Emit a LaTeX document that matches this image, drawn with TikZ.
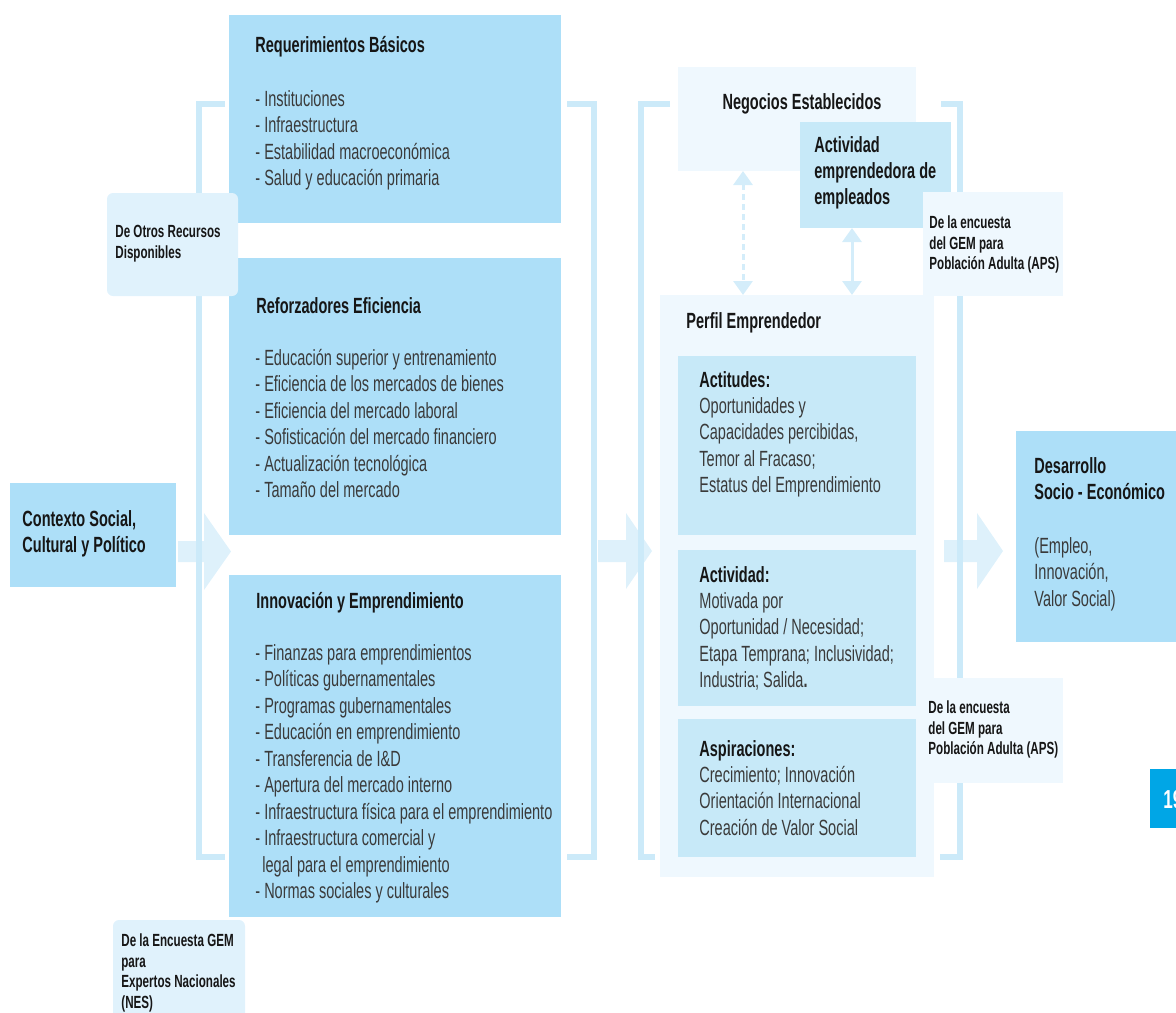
\documentclass[tikz,border=0pt]{standalone}
\usepackage{fontspec}
\setmainfont{Liberation Sans}[FakeStretch=0.66]
\usetikzlibrary{arrows.meta}
\definecolor{mainblue}{RGB}{173,223,248}
\definecolor{innerblue}{RGB}{199,233,248}
\definecolor{paleblue}{RGB}{239,248,254}
\definecolor{labelblue}{RGB}{224,242,252}
\definecolor{brackblue}{RGB}{204,234,249}
\definecolor{arrowblue}{RGB}{222,241,251}
\definecolor{vlinkblue}{RGB}{212,237,250}
\definecolor{pageblue}{RGB}{0,166,230}
\definecolor{txtreg}{RGB}{58,58,58}
\definecolor{txtbold}{RGB}{22,22,22}
\newcommand\fstrut{\rule{0pt}{0.82em}}
\begin{document}
\begin{tikzpicture}[x=0.5pt,y=-0.5pt,
  panel/.style={fill=#1,draw=none,inner sep=0pt,outer sep=0pt,rectangle},
  rpanel/.style={fill=#1,draw=none,inner sep=0pt,outer sep=0pt,rectangle,rounded corners=3pt},
  ttl/.style={anchor=north west,inner sep=0pt,align=left,text=txtbold,font=\fontsize{11}{13}\selectfont\bfseries},
  lst/.style={anchor=north west,inner sep=0pt,align=left,text=txtreg,font=\fontsize{11}{13.25}\selectfont},
  lbl/.style={anchor=north west,inner sep=0pt,align=left,text=txtbold,font=\fontsize{8.8}{10.3}\selectfont\bfseries},
  blockarrow/.style={fill=arrowblue,draw=none},
  brack/.style={draw=brackblue,line width=3pt},
  vlink/.style={draw=vlinkblue,line width=1.5pt,{Triangle[width=9.5pt,length=7pt]}-{Triangle[width=9.5pt,length=7pt]}},
]
\useasboundingbox (0,0) rectangle (1176,1012);

% block arrows
\fill[blockarrow] (178,541) -- (204,541) -- (204,513) -- (231,551.5) -- (204,590) -- (204,562) -- (178,562) -- cycle;
\fill[blockarrow] (598,540) -- (626,540) -- (626,513) -- (652,551) -- (626,589) -- (626,562) -- (598,562) -- cycle;
\fill[blockarrow] (944,540) -- (977,540) -- (977,513) -- (1003,551) -- (977,589) -- (977,562) -- (944,562) -- cycle;

% brackets
\draw[brack] (225,103.5) -- (198.5,103.5) -- (198.5,856.5) -- (225,856.5);
\draw[brack] (567,103.5) -- (593.5,103.5) -- (593.5,856.5) -- (567,856.5);
\draw[brack] (670,103.5) -- (641,103.5) -- (641,856.5) -- (655,856.5);
\draw[brack] (941,103.5) -- (960,103.5) -- (960,856.5) -- (940,856.5);

% left column panels
\node[panel=mainblue,minimum width=166pt,minimum height=104pt] (rb) at (395,119) {};
\node[panel=mainblue,minimum width=166pt,minimum height=138.5pt] (re) at (395,396.5) {};
\node[panel=mainblue,minimum width=166pt,minimum height=171pt] (ie) at (395,746) {};
\node[panel=mainblue,minimum width=83pt,minimum height=52pt] (ctx) at (93,535) {};
\node[rpanel=labelblue,minimum width=65.5pt,minimum height=51.5pt] (otros) at (172.5,244.5) {};
\node[rpanel=labelblue,minimum width=66pt,minimum height=55pt] (nes) at (179,975) {};

% middle column panels
\node[panel=paleblue,minimum width=119pt,minimum height=52pt] (neg) at (797,119) {};
\node[panel=innerblue,minimum width=75.5pt,minimum height=53pt] (act) at (875.5,175) {};
\node[panel=paleblue,minimum width=137pt,minimum height=291pt] (perfil) at (797,586) {};
\node[panel=innerblue,minimum width=119pt,minimum height=89.5pt] (actit) at (797,445.5) {};
\node[panel=innerblue,minimum width=119pt,minimum height=78pt] (activ) at (797,628) {};
\node[panel=innerblue,minimum width=119pt,minimum height=69pt] (aspir) at (797,788) {};
\node[panel=paleblue,minimum width=70pt,minimum height=52pt] (aps1) at (993,244) {};
\node[panel=paleblue,minimum width=65pt,minimum height=52.5pt] (aps2) at (998,730.5) {};

% right panels
\node[panel=mainblue,minimum width=87pt,minimum height=105.5pt] (des) at (1103,536.5) {};
\node[panel=pageblue,minimum width=20pt,minimum height=29.5pt] (pg) at (1170,798.5) {};

% vertical links
\coordinate (dx) at (743,0);
\coordinate (sx) at (852,0);
\draw[vlink,dash pattern=on 3pt off 2pt] (neg.south -| dx) -- (perfil.north -| dx);
\draw[vlink] (act.south -| sx) -- (perfil.north -| sx);

% texts left column
\node[ttl] (rbT) at (255,34) {\fstrut Requerimientos Básicos};
\node[lst] (rbL) at (255,88) {\fstrut- Instituciones\\- Infraestructura\\- Estabilidad macroeconómica\\- Salud y educación primaria};
\node[ttl] (reT) at (256,295) {\fstrut Reforzadores Eficiencia};
\node[lst] (reL) at (255,347) {\fstrut- Educación superior y entrenamiento\\- Eficiencia de los mercados de bienes\\- Eficiencia del mercado laboral\\- Sofisticación del mercado financiero\\- Actualización tecnológica\\- Tamaño del mercado};
\node[ttl] (ieT) at (256,590) {\fstrut Innovación y Emprendimiento};
\node[lst] (ieL) at (255,642) {\fstrut- Finanzas para emprendimientos\\- Políticas gubernamentales\\- Programas gubernamentales\\- Educación en emprendimiento\\- Transferencia de I\&D\\- Apertura del mercado interno\\- Infraestructura física para el emprendimiento\\- Infraestructura comercial y\\\hspace*{3.5pt}legal para el emprendimiento\\- Normas sociales y culturales};
\node[ttl] (ctxT) at (22,508) {\fstrut Contexto Social,\\Cultural y Político};
\node[lbl] (otrosT) at (115,222.6) {\fstrut De Otros Recursos\\Disponibles};
\node[lbl] (nesT) at (121,931.6) {\fstrut De la Encuesta GEM\\para\\Expertos Nacionales\\(NES)};

% texts middle column
\node[anchor=base,inner sep=0pt,text=txtbold,font=\fontsize{11}{13}\selectfont\bfseries] (negT) at (802,109) {Negocios Establecidos};
\node[ttl] (actT) at (814,134) {\fstrut Actividad\\emprendedora de\\empleados};
\node[lbl] (aps1T) at (929,213.6) {\fstrut De la encuesta\\del GEM para\\Población Adulta (APS)};
\node[ttl] (perfilT) at (686,310) {\fstrut Perfil Emprendedor};
\node[ttl] (actitT) at (699,369) {\fstrut Actitudes:};
\node[lst] (actitL) at (699,395) {\fstrut Oportunidades y\\Capacidades percibidas,\\Temor al Fracaso;\\Estatus del Emprendimiento};
\node[ttl] (activT) at (699,564) {\fstrut Actividad:};
\node[lst] (activL) at (699,590) {\fstrut Motivada por\\Oportunidad / Necesidad;\\Etapa Temprana; Inclusividad;\\Industria; Salida\textbf{.}};
\node[ttl] (aspirT) at (699,738) {\fstrut Aspiraciones:};
\node[lst] (aspirL) at (699,764) {\fstrut Crecimiento; Innovación\\Orientación Internacional\\Creación de Valor Social};
\node[lbl] (aps2T) at (928,698.6) {\fstrut De la encuesta\\del GEM para\\Población Adulta (APS)};

% texts right
\node[ttl] (desT) at (1034,455) {\fstrut Desarrollo\\Socio - Económico};
\node[lst] (desL) at (1034,535) {\fstrut(Empleo,\\Innovación,\\Valor Social)};
\node[anchor=base west,inner sep=0pt,text=white,font=\fontsize{13}{13}\selectfont\bfseries] (pgT) at (1163,808) {19};
\end{tikzpicture}
\end{document}
